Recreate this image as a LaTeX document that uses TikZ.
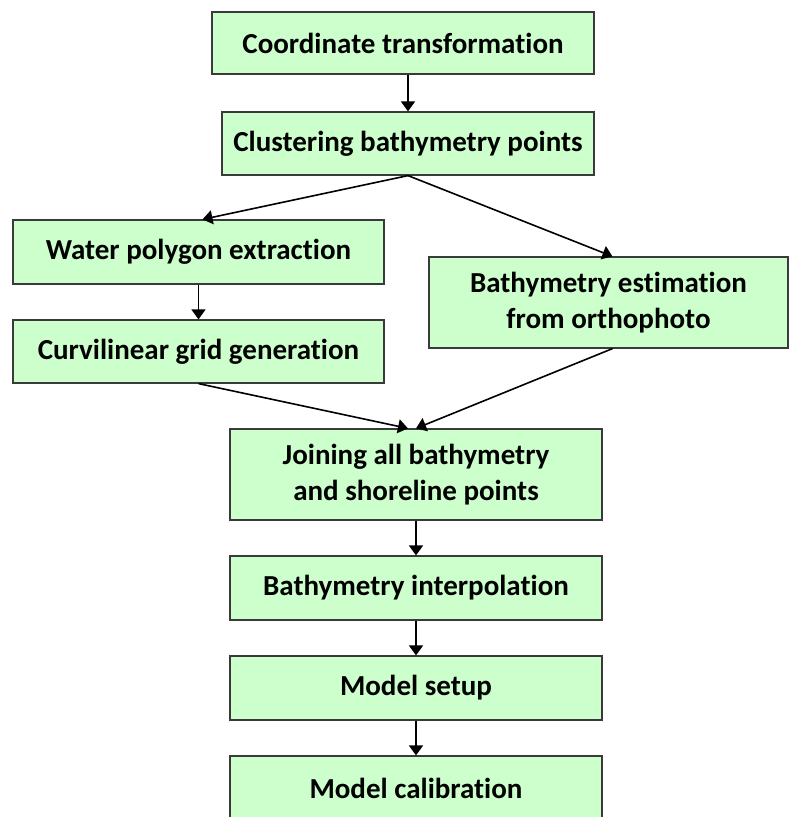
\documentclass[tikz,border=0pt]{standalone}
\usepackage{fontspec}
\setmainfont[Ligatures=NoCommon]{Carlito}
\usepackage{tikz}
\usetikzlibrary{arrows, arrows.meta, positioning, calc}

\definecolor{boxgreen}{HTML}{CCFFCC}
\definecolor{boxline}{HTML}{3A3A3A}

\begin{document}
\begin{tikzpicture}[x=1pt, y=-1pt,
		stepbox/.style={draw=boxline, line width=1.2pt, fill=boxgreen, inner sep=0pt, align=center,
			font=\fontsize{29}{36}\selectfont\bfseries},
		flow/.style={line width=1.6pt, -{Triangle[width=14pt,length=10pt]}}]
				
				\clip (0,0) rectangle (789,817);
				
				\node[stepbox, minimum width=382pt, minimum height=62pt] (n1) at (403,43) {Coordinate transformation};
				\node[stepbox, minimum width=372pt, minimum height=63pt] (n2) at (408,143.5) {Clustering bathymetry points};
				\node[stepbox, minimum width=371pt, minimum height=64pt] (n3) at (198.5,252) {Water polygon extraction};
				\node[stepbox, minimum width=371pt, minimum height=63pt] (n4) at (198.5,351.5) {Curvilinear grid generation};
				\node[stepbox, minimum width=359pt, minimum height=91pt] (n5) at (608.5,302.5) {Bathymetry estimation\\from orthophoto};
				\node[stepbox, minimum width=372pt, minimum height=91pt] (n6) at (416,474.5) {Joining all bathymetry\\and shoreline points};
				\node[stepbox, minimum width=372pt, minimum height=64pt] (n7) at (416,588) {Bathymetry interpolation};
				\node[stepbox, minimum width=372pt, minimum height=64pt] (n8) at (416,688) {Model setup};
				\node[stepbox, minimum width=372pt, minimum height=64pt] (n9) at (416,788) {Model calibration};
				
				\draw[flow] (n2.north |- n1.south) -- (n2.north);
				\draw[flow] (n2.south) -- ([xshift=4pt]n3.north);
				\draw[flow] (n2.south) -- ([xshift=4pt]n5.north);
				\draw[flow] (n3.south) -- (n4.north);
				\draw[flow] (n4.south) -- ([xshift=-8pt]n6.north);
				\draw[flow] ([xshift=4pt]n5.south) -- (n6.north);
				\draw[flow] (n6.south) -- (n7.north);
				\draw[flow] (n7.south) -- (n8.north);
				\draw[flow] (n8.south) -- (n9.north);
			\end{tikzpicture}
\end{document}
